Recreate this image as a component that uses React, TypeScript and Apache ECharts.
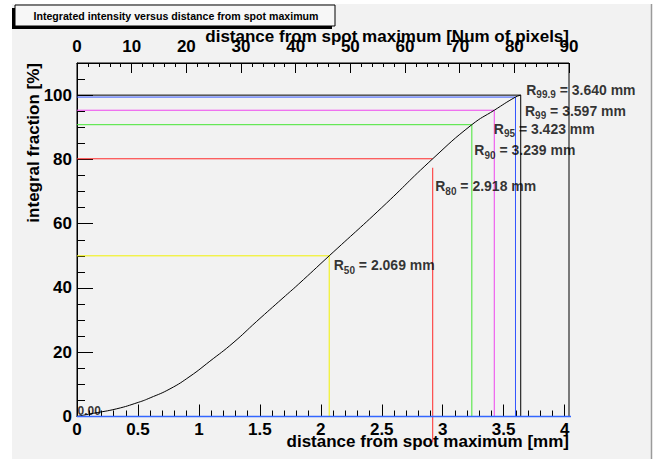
import React, { useEffect, useRef } from "react";
import * as echarts from "echarts";

// ---- texts ----
const titleText = "Integrated intensity versus distance from spot maximum";
const xNameMm = "distance from spot maximum [mm]";
const xNamePix = "distance from spot maximum [Num of pixels]";
const yNameText = "integral fraction [%]";

// ---- axis ranges / ticks ----
const xMaxMm = 4.036;
const xMaxPix = 90;
const yMax = 110;
const xMajorTicks = [0, 0.5, 1, 1.5, 2, 2.5, 3, 3.5, 4];
const yMajorTicks = [0, 20, 40, 60, 80, 100];

// ---- integrated intensity curve ----
const curveMm = [0, 0.052, 0.134, 0.326, 0.503, 0.6, 0.763, 0.927, 1.09, 1.28, 1.474, 1.69, 1.815, 2.069, 2.5, 2.918, 3.239, 3.423, 3.597, 3.64];
const curvePct = [0, 0.4, 1.0, 2.4, 4.4, 5.8, 8.6, 12.5, 17.2, 22.9, 29.6, 36.9, 41.1, 50.0, 65.0, 80.2, 90.8, 95.3, 99.4, 100];

// ---- radius markers ----
const levelNames = ["50", "80", "90", "95", "99", "99.9"];
const levelRadius = [2.069, 2.918, 3.239, 3.423, 3.597, 3.64];
const levelFraction = [50, 80.2, 90.8, 95.3, 99.4, 100];
const levelLineTop = [50, 77.4, 90.8, 95.3, 99.4, 100];
const levelLineBottom = [0, -8, 0, 0, 0, 0];

// ---- styles ----
const levelColors = ["#f2f200", "#ff2a2a", "#44e633", "#ee44ee", "#3355ff", "#000000"];
const labelOffsets = [[5, 11], [3, 29], [3, 27], [0, 20], [10, 15], [6, -4]];
const FONT = "'Liberation Sans', Arial, Helvetica, sans-serif";

function buildMinor(majors: number[], step: number, max: number) {
  const out: number[] = [];
  const n = Math.round(max / step);
  for (let i = 1; i <= n; i++) {
    const v = +(i * step).toFixed(4);
    if (v > max + 1e-9) break;
    if (!majors.some((m) => Math.abs(m - v) < 1e-6)) out.push(v);
  }
  return out;
}

export default function App() {
  const ref = useRef<HTMLDivElement>(null);
  useEffect(() => {
    if (!ref.current) return;
    const chart = echarts.init(ref.current, undefined, { renderer: "svg" });

    const xMinorTicks = buildMinor(xMajorTicks, 0.1, 4.0);
    const yMinorTicks = buildMinor(yMajorTicks, 5, 105);

    const labelFont = { fontFamily: FONT, fontWeight: "bold" as const, fontSize: 17, color: "#000" };

    const series: any[] = [];
    // curve
    series.push({
      type: "line",
      xAxisIndex: 0,
      yAxisIndex: 0,
      data: curveMm.map((x, i) => [x, curvePct[i]]),
      symbol: "none",
      smooth: 0.5,
      lineStyle: { color: "#000", width: 1 },
      silent: true,
      z: 5,
    });
    // reference lines (black first, so coloured ones are on top)
    for (let i = levelRadius.length - 1; i >= 0; i--) {
      series.push({
        type: "line",
        xAxisIndex: 0,
        yAxisIndex: 0,
        data: [[0, levelFraction[i]], [levelRadius[i], levelFraction[i]]],
        symbol: "none",
        lineStyle: { color: levelColors[i], width: 1 },
        silent: true,
        z: 3,
      });
      series.push({
        type: "line",
        xAxisIndex: 0,
        yAxisIndex: 0,
        data: [[levelRadius[i], levelLineTop[i]], [levelRadius[i], levelLineBottom[i]]],
        symbol: "none",
        clip: false,
        lineStyle: { color: levelColors[i], width: 1 },
        silent: true,
        z: 3,
      });
    }
    // zero line
    series.push({
      type: "line",
      xAxisIndex: 0,
      yAxisIndex: 0,
      data: [[0, 0], [4.8, 0]],
      symbol: "none",
      clip: false,
      lineStyle: { color: "#3366ff", width: 1.6 },
      silent: true,
      z: 6,
    });
    // R labels
    series.push({
      type: "scatter",
      xAxisIndex: 0,
      yAxisIndex: 0,
      symbolSize: 1,
      itemStyle: { color: "rgba(0,0,0,0)" },
      silent: true,
      z: 7,
      data: levelRadius.map((r, i) => ({
        value: [r, levelFraction[i]],
        label: {
          show: true,
          position: labelOffsets[i],
          align: "left",
          verticalAlign: "middle",
          formatter: `{r|R}{s|${levelNames[i]}}{r| = ${r.toFixed(3)} mm}`,
          rich: {
            r: { fontFamily: FONT, fontWeight: "bold", fontSize: 14, color: "#000", lineHeight: 16, verticalAlign: "top" },
            s: { fontFamily: FONT, fontWeight: "bold", fontSize: 10, color: "#000", lineHeight: 10, padding: [8, 0, 0, 0] },
          },
        },
      })),
    });
    // "0.00" label at origin of curve
    series.push({
      type: "scatter",
      xAxisIndex: 0,
      yAxisIndex: 0,
      symbolSize: 1,
      itemStyle: { color: "rgba(0,0,0,0)" },
      silent: true,
      z: 7,
      data: [[curveMm[0], curvePct[0]]],
      label: {
        show: true,
        position: [1, -5],
        align: "left",
        verticalAlign: "middle",
        fontFamily: FONT,
        fontWeight: "bold",
        fontSize: 12,
        color: "#000",
        formatter: (p: any) => p.value[1].toFixed(2),
      },
    });

    const option: any = {
      animation: false,
      backgroundColor: "#ffffff",
      grid: {
        left: 77,
        top: 63,
        right: 86,
        bottom: 42.5,
        show: true,
        borderColor: "#000",
        borderWidth: 1,
        backgroundColor: "transparent",
        containLabel: false,
        outerBoundsMode: "none",
      },
      xAxis: [
        {
          type: "value",
          position: "bottom",
          min: 0,
          max: xMaxMm,
          axisLine: { show: true, lineStyle: { color: "#000" } },
          axisTick: { show: true, inside: true, length: 12, customValues: xMajorTicks, lineStyle: { color: "#000" } },
          axisLabel: { show: true, margin: 4, customValues: xMajorTicks, ...labelFont, formatter: (v: number) => String(v) },
          splitLine: { show: false },
          name: xNameMm,
          nameLocation: "end",
          nameGap: 0,
          nameMoveOverlap: false,
          nameTextStyle: { ...labelFont, align: "right", verticalAlign: "top", padding: [16, 0, 0, 0] },
        },
        {
          type: "value",
          position: "bottom",
          min: 0,
          max: xMaxMm,
          axisLine: { show: false },
          axisTick: { show: true, inside: true, length: 6, customValues: xMinorTicks, lineStyle: { color: "#000" } },
          axisLabel: { show: false },
          splitLine: { show: false },
        },
        {
          type: "value",
          position: "top",
          min: 0,
          max: xMaxPix,
          interval: 10,
          axisLine: { show: true, lineStyle: { color: "#000" } },
          axisTick: { show: true, inside: true, length: 10, lineStyle: { color: "#000" } },
          minorTick: { show: true, splitNumber: 5, length: 4, lineStyle: { color: "#000" } },
          axisLabel: { show: true, margin: 8, ...labelFont },
          splitLine: { show: false },
          minorSplitLine: { show: false },
          name: xNamePix,
          nameLocation: "end",
          nameGap: 0,
          nameMoveOverlap: false,
          nameTextStyle: { ...labelFont, align: "right", verticalAlign: "bottom", padding: [0, 0, 18, 0] },
        },
      ],
      yAxis: [
        {
          type: "value",
          position: "left",
          min: 0,
          max: yMax,
          axisLine: { show: true, lineStyle: { color: "#000" } },
          axisTick: { show: true, inside: true, length: 16, customValues: yMajorTicks, lineStyle: { color: "#000" } },
          axisLabel: { show: true, margin: 5, customValues: yMajorTicks, ...labelFont },
          splitLine: { show: false },
          name: yNameText,
          nameLocation: "end",
          nameRotate: 90,
          nameGap: 0,
          nameMoveOverlap: false,
          nameTextStyle: { ...labelFont, align: "right", verticalAlign: "bottom", padding: [0, 0, 35, 0] },
        },
        {
          type: "value",
          position: "left",
          min: 0,
          max: yMax,
          axisLine: { show: false },
          axisTick: { show: true, inside: true, length: 8, customValues: yMinorTicks, lineStyle: { color: "#000" } },
          axisLabel: { show: false },
          splitLine: { show: false },
        },
      ],
      graphic: [
        {
          type: "rect",
          z: -100,
          silent: true,
          shape: { x: 12, y: 4, width: 639, height: 455 },
          style: { fill: "#f2f2f2" },
        },
        {
          type: "line",
          z: -99,
          silent: true,
          shape: { x1: 651.5, y1: 4, x2: 651.5, y2: 459 },
          style: { stroke: "#9a9a9a", lineWidth: 1.5 },
        },
        {
          type: "rect",
          z: 10,
          silent: true,
          shape: { x: 12, y: 8, width: 320, height: 21 },
          style: { fill: "#000" },
        },
        {
          type: "rect",
          z: 11,
          silent: true,
          shape: { x: 15, y: 5, width: 320, height: 21 },
          style: { fill: "#f7f7f7", stroke: "#000", lineWidth: 1 },
        },
        {
          type: "text",
          z: 12,
          silent: true,
          x: 176,
          y: 15.5,
          style: {
            text: titleText,
            fontFamily: FONT,
            fontWeight: "bold",
            fontSize: 10.6,
            fill: "#000",
            align: "center",
            verticalAlign: "middle",
          },
        },
      ],
      series,
    };

    chart.setOption(option);
    return () => chart.dispose();
  }, []);

  return (
    <div
      ref={ref}
      style={{ position: "fixed", left: 0, top: 0, width: 655, height: 459, background: "#fff" }}
    />
  );
}
